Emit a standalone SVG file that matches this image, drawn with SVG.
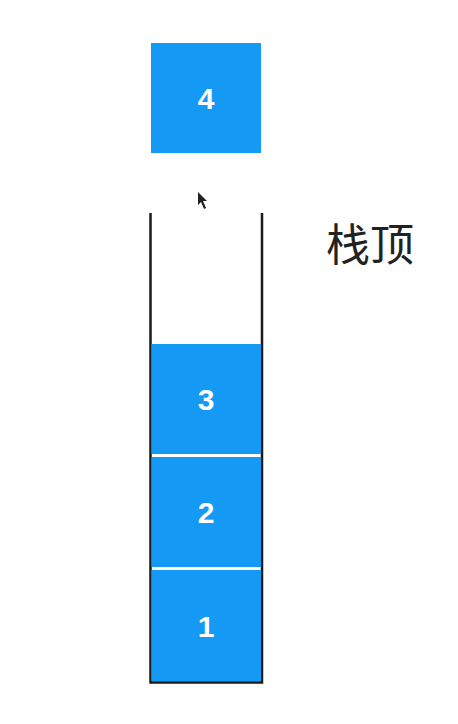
<svg xmlns="http://www.w3.org/2000/svg" width="458" height="724" viewBox="0 0 458 724">
<style>
.blk{fill:#1499f4}
.num{font-family:"Liberation Sans",Arial,sans-serif;font-size:30px;font-weight:bold;fill:#ffffff;text-anchor:middle}
.wall{stroke:#1a1a1a;stroke-width:2.5;fill:none}
.lbl{font-family:"Noto Sans CJK SC","Noto Sans",sans-serif;font-size:44px;fill:#222222;text-anchor:middle}
</style>
<rect width="458" height="724" fill="#ffffff"/>
<g id="node4">
<rect class="blk" x="151" y="43" width="110" height="110"/>
<text class="num" x="206" y="109">4</text>
</g>
<g id="stack">
<path class="wall" d="M150.5,213 V682.5 H262 V213"/>
</g>
<g id="node3">
<rect class="blk" x="151.5" y="344" width="109.5" height="110"/>
<text class="num" x="206" y="410">3</text>
</g>
<g id="node2">
<rect class="blk" x="151.5" y="457" width="109.5" height="110"/>
<text class="num" x="206" y="523">2</text>
</g>
<g id="node1">
<rect class="blk" x="151.5" y="570" width="109.5" height="111"/>
<text class="num" x="206" y="637">1</text>
</g>
<g id="label-top">
<text class="lbl" x="370" y="261">栈顶</text>
</g>
<g id="cursor">
<polygon points="198,192 198,205 201,202 204,209 206,208 203,201 207,201" fill="#222222"/>
</g>
</svg>
